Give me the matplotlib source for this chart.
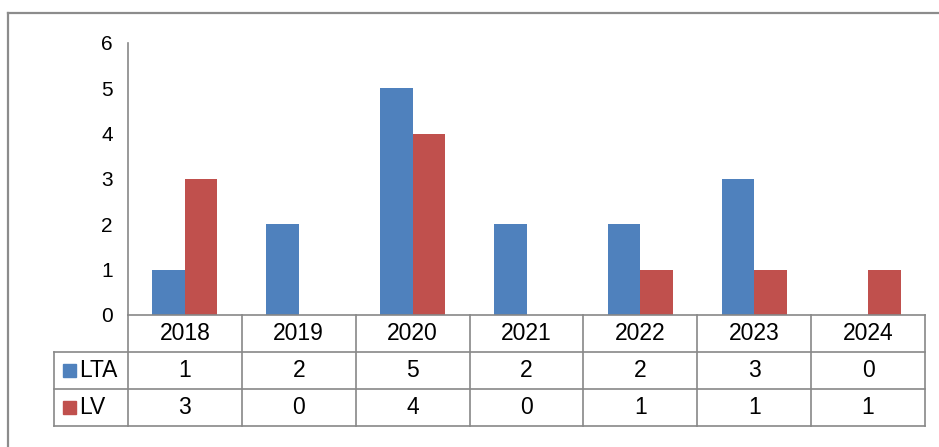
import numpy as np
import matplotlib
matplotlib.use('Agg')
import matplotlib.pyplot as plt
from matplotlib.lines import Line2D
from matplotlib.patches import Rectangle

years = ['2018', '2019', '2020', '2021', '2022', '2023', '2024']
lta = [1, 2, 5, 2, 2, 3, 0]
lv = [3, 0, 4, 0, 1, 1, 1]
series_names = ['LTA', 'LV']
series_colors = ['#4F81BD', '#C0504D']

plt.rcParams['font.family'] = ['Liberation Sans', 'DejaVu Sans']
W, H = 939, 447
fig = plt.figure(figsize=(W / 100, H / 100), dpi=100)

# plot area in pixels
left, right, top, bottom = 128, 925, 43, 315
ax = fig.add_axes([left / W, 1 - bottom / H, (right - left) / W, (bottom - top) / H])

x = np.arange(len(years))
bw = 0.286
ax.bar(x - bw / 2, lta, bw, color=series_colors[0])
ax.bar(x + bw / 2, lv, bw, color=series_colors[1])

ax.set_xlim(-0.5, len(years) - 0.5)
ax.set_ylim(0, 6)
ax.set_yticks(range(0, 7))
ax.tick_params(axis='y', length=0, pad=11, labelsize=15)
ax.set_xticks([])
for s in ['top', 'right', 'bottom']:
    ax.spines[s].set_visible(False)
ax.spines['left'].set_color('#888888')
ax.spines['left'].set_linewidth(1.2)

# data table below the axis
gc = '#888888'
lw = 1.2
fs = 16.5
rh = 37 / (bottom - top)          # row height in axes units
lab_left = (54 - left) / (right - left)
n = len(years)

def hline(y, x0, x1):
    ax.add_line(Line2D([x0, x1], [y, y], transform=ax.transAxes, color=gc, lw=lw, clip_on=False))

def vline(xx, y0, y1):
    ax.add_line(Line2D([xx, xx], [y0, y1], transform=ax.transAxes, color=gc, lw=lw, clip_on=False))

hline(0, 0, 1)
hline(-rh, lab_left, 1)
hline(-2 * rh, lab_left, 1)
hline(-3 * rh, lab_left, 1)
for i in range(n + 1):
    vline(i / n, 0, -3 * rh)
vline(lab_left, -rh, -3 * rh)

for i, yr in enumerate(years):
    cx = (i + 0.5) / n
    ax.text(cx, -0.5 * rh, yr, transform=ax.transAxes, ha='center', va='center', fontsize=fs)
    ax.text(cx, -1.5 * rh, str(lta[i]), transform=ax.transAxes, ha='center', va='center', fontsize=fs)
    ax.text(cx, -2.5 * rh, str(lv[i]), transform=ax.transAxes, ha='center', va='center', fontsize=fs)

for r, (name, col) in enumerate(zip(series_names, series_colors)):
    yc = 1 - (bottom + 37 * (r + 1.5)) / H
    fig.add_artist(Rectangle((63 / W, yc - 6.5 / H), 13 / W, 13 / H, color=col))
    fig.text(79 / W, yc, name, ha='left', va='center', fontsize=fs)

# outer chart border
bc = '#8c8c8c'
fig.add_artist(Line2D([8 / W, 1], [1 - 13 / H, 1 - 13 / H], color=bc, lw=1.6))
fig.add_artist(Line2D([8 / W, 8 / W], [1 - 13 / H, 0], color=bc, lw=1.6))

fig.savefig('out.png', dpi=100)
